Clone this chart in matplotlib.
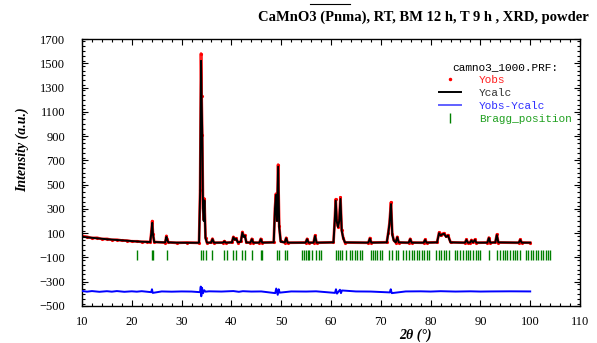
import matplotlib
matplotlib.use("Agg")
import matplotlib.pyplot as plt
from matplotlib.lines import Line2D
from matplotlib.ticker import MultipleLocator

# 2theta break points of the profile
tth = [10, 11, 12, 13, 14, 15, 16, 17, 18, 19, 20, 21, 22, 23, 23.7, 23.95, 24.1, 24.25, 24.5,
       26.7, 26.95, 27.1, 27.35, 29, 31, 33.5, 33.72, 33.9, 34.02, 34.15, 34.3, 34.45, 34.58,
       34.8, 35.1, 35.9, 36.2, 36.5, 38.3, 38.6, 38.9, 40.1, 40.4, 40.7, 40.95, 41.3, 41.9,
       42.2, 42.45, 42.7, 43.0, 43.8, 44.1, 44.4, 45.6, 45.9, 46.2, 48.5, 48.75, 48.95, 49.15,
       49.38, 49.6, 49.9, 50.7, 51.0, 51.3, 54.9, 55.2, 55.5, 56.5, 56.8, 57.1, 60.5, 60.75,
       60.95, 61.15, 61.4, 61.65, 61.9, 62.15, 62.45, 62.8, 67.5, 67.8, 68.1, 71.2, 71.5,
       71.75, 72.05, 72.3, 72.6, 73.0, 73.3, 73.6, 75.6, 75.9, 76.2, 78.6, 78.9, 79.2, 81.3,
       81.7, 82.0, 82.3, 82.7, 83.1, 83.5, 84.0, 86.9, 87.2, 87.5, 87.9, 88.2, 88.5, 88.9,
       89.2, 91.4, 91.7, 92.0, 93.0, 93.3, 93.6, 97.7, 98.0, 98.3, 100]

ycalc = [70, 66, 62, 58, 54, 50, 47, 44, 41, 38, 35, 32, 30, 28, 27, 110, 185, 90, 27,
         24, 70, 45, 24, 22, 21, 21, 440, 1520, 1200, 900, 300, 200, 370,
         60, 22, 22, 50, 22, 22, 32, 22, 24, 66, 45, 55, 24, 30,
         104, 70, 80, 24, 22, 50, 22, 22, 50, 22, 24, 300, 415, 200,
         648, 150, 30, 24, 58, 22, 22, 50, 22, 22, 77, 22, 24, 200,
         368, 200, 150, 200, 382, 120, 60, 24, 22, 55, 22, 24, 100,
         180, 340, 90, 40, 24, 66, 24, 22, 50, 22, 22, 44, 22, 24,
         100, 80, 90, 95, 70, 80, 24, 22, 44, 22, 22, 40, 24, 44,
         22, 22, 60, 22, 24, 85, 24, 22, 44, 22, 22]

yobs = [78, 70, 60, 62, 52, 53, 45, 46, 40, 39, 33, 33, 28, 29, 26, 118, 200, 96, 28,
        22, 78, 48, 25, 20, 23, 20, 455, 1580, 1230, 910, 310, 210, 385,
        64, 20, 24, 55, 21, 23, 35, 21, 25, 70, 48, 58, 23, 32,
        110, 74, 84, 25, 21, 54, 23, 21, 54, 23, 25, 310, 425, 210,
        665, 158, 32, 23, 62, 21, 23, 54, 21, 23, 82, 21, 25, 205,
        380, 210, 155, 205, 395, 126, 62, 23, 21, 60, 23, 25, 104,
        186, 355, 95, 42, 23, 70, 23, 21, 54, 23, 21, 48, 23, 25,
        106, 84, 94, 100, 74, 84, 25, 21, 48, 23, 21, 44, 25, 48,
        21, 23, 64, 21, 25, 90, 23, 21, 48, 23, 21]

# difference curve (already shifted by the plotting offset)
diff_x = [10, 11, 12, 13.5, 15, 16, 17, 18.5, 20, 21, 22, 23.9, 24.05, 24.2, 26, 28, 30, 32,
          33.7, 33.85, 33.95, 34.1, 34.3, 34.55, 34.8, 35.5, 38, 40.4, 41.5, 42.3, 44, 46,
          48.8, 49.0, 49.3, 49.5, 49.7, 52, 55, 57, 60.8, 61.0, 61.2, 61.8, 62.0, 62.2, 65,
          68, 71.8, 72.0, 72.2, 75, 78, 80, 82, 85, 88, 90, 92, 96, 100]
diff_y = [-376, -382, -377, -383, -378, -382, -377, -383, -379, -382, -378, -386, -362, -392,
          -380, -382, -380, -381, -386, -340, -420, -350, -395, -370, -382, -379, -381, -377,
          -383, -378, -381, -380, -394, -356, -408, -362, -390, -380, -381, -379, -392, -362,
          -398, -366, -394, -372, -380, -381, -388, -362, -394, -380, -379, -381, -378, -381,
          -379, -381, -380, -379, -380]

bragg = [21.0, 24.0, 24.2, 27.1, 33.9, 34.2, 34.9, 36.2, 38.5, 39.1, 40.4, 40.9, 42.2, 42.7,
         44.1, 45.9, 46.2, 49.1, 49.6, 50.8, 51.2, 54.1, 54.6, 55.0, 55.3, 55.6, 56.1, 56.9,
         57.5, 57.9, 61.0, 61.5, 61.9, 62.3, 63.0, 63.9, 64.3, 64.8, 65.3, 65.8, 66.2, 68.0,
         68.4, 68.8, 69.3, 69.8, 70.2, 71.7, 72.2, 73.1, 73.5, 74.5, 75.1, 75.7, 76.2, 76.7,
         77.2, 77.7, 78.2, 78.7, 79.2, 79.7, 81.1, 81.6, 82.0, 82.6, 83.1, 83.6, 84.9, 85.4,
         85.9, 86.6, 87.1, 87.6, 88.0, 88.6, 89.1, 89.6, 89.9, 91.8, 93.4, 93.9, 94.5, 94.9,
         95.4, 95.9, 96.5, 96.9, 97.4, 97.9, 99.2, 99.6, 100.1, 100.6, 101.2, 101.6, 102.1,
         102.6, 103.2, 103.6, 104.0]

serif = "Liberation Serif"
mono = "Liberation Mono"

fig = plt.figure(figsize=(5.97, 3.43), dpi=100)
ax = fig.add_axes([82 / 597, 1 - 306 / 343, 498 / 597, 267 / 343])

ax.plot(tth, yobs, color="#ff2020", lw=2.0, solid_joinstyle="round", zorder=2)
ax.plot(tth, yobs, ".", color="#ff0000", ms=2.5, zorder=2)
ax.plot(tth, ycalc, color="black", lw=1.4, zorder=3)
ax.plot(diff_x, diff_y, color="#0000ff", lw=1.4, zorder=3)
ax.vlines(bragg, -120, -40, color="#008000", lw=1.0, zorder=3)

ax.set_xlim(10, 110)
ax.set_ylim(-500, 1700)
ax.xaxis.set_major_locator(MultipleLocator(10))
ax.xaxis.set_minor_locator(MultipleLocator(2))
ax.set_yticks(range(-500, 1701, 200))
ax.yaxis.set_minor_locator(MultipleLocator(40))
ax.tick_params(which="both", direction="in", top=True, right=True, width=0.8, labelsize=9)
ax.tick_params(which="major", length=4)
ax.tick_params(which="minor", length=2.5)
ax.tick_params(axis="y", which="major", pad=12)
ax.tick_params(axis="x", which="major", pad=7)
for lab in ax.get_xticklabels() + ax.get_yticklabels():
    lab.set_fontfamily(serif)
for sp in ax.spines.values():
    sp.set_linewidth(1.0)

handles = [Line2D([], [], ls="none", marker=".", ms=3, color="#ff0000"),
           Line2D([], [], color="black", lw=1.4),
           Line2D([], [], color="#6060ff", lw=1.4),
           Line2D([], [], ls="none", marker="|", ms=7, mew=1, color="#008000")]
labels = ["Yobs", "Ycalc", "Yobs-Ycalc", "Bragg_position"]
leg = ax.legend(handles, labels, loc="upper right", bbox_to_anchor=(0.983, 0.912),
                frameon=False, title="camno3_1000.PRF:", borderpad=0, borderaxespad=0,
                prop={"family": mono, "size": 8}, title_fontproperties={"family": mono, "size": 8},
                labelcolor=["#ff2020", "#333333", "#3030ff", "#20a020"],
                handlelength=2, handletextpad=1.6, labelspacing=0.25)

fig.text(423 / 597, 1 - 17 / 343, "CaMnO3 (Pnma), RT, BM 12 h, T 9 h , XRD, powder",
         family=serif, fontweight="bold", fontsize=10.5, ha="center", va="center")
fig.add_artist(Line2D([310 / 597, 350 / 597], [1 - 4 / 343, 1 - 4 / 343], color="black", lw=0.8))
fig.text(22 / 597, 1 - 150 / 343, "Intensity (a.u.)", family=serif, fontweight="bold",
         style="italic", fontsize=10, rotation=90, ha="center", va="center")
fig.text(415 / 597, 1 - 335 / 343, "2θ (°)", family=serif, fontweight="bold",
         style="italic", fontsize=10, ha="center", va="center")

fig.savefig("out.png", dpi=100)
